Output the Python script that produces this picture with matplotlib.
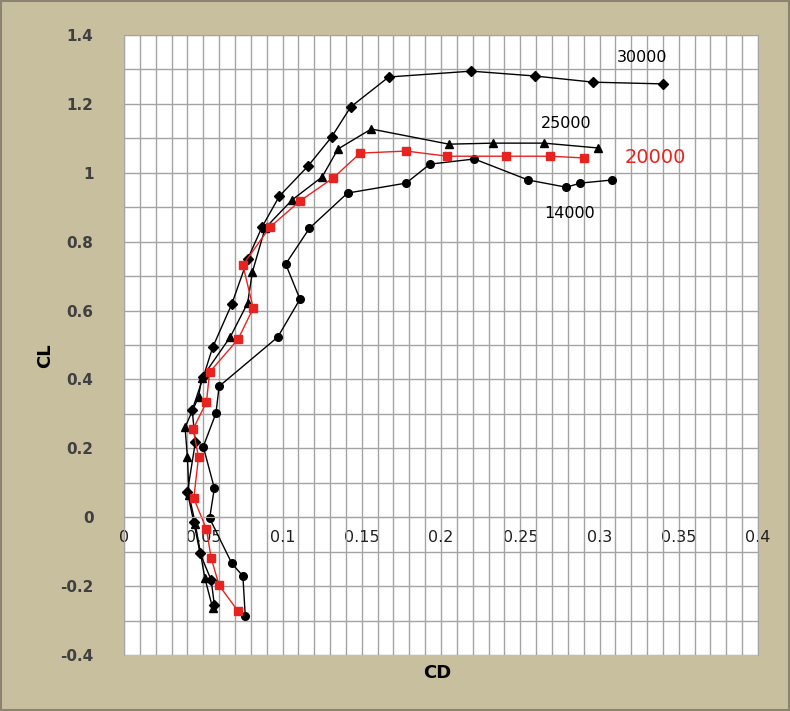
import numpy as np
import matplotlib.pyplot as plt
from matplotlib.ticker import MultipleLocator

# Re 30000 (diamonds)
cd_30000 = [0.340, 0.296, 0.259, 0.219, 0.167, 0.143, 0.131, 0.116, 0.098, 0.087,
            0.078, 0.068, 0.056, 0.050, 0.043, 0.045, 0.040, 0.044, 0.048, 0.055, 0.057]
cl_30000 = [1.258, 1.263, 1.281, 1.295, 1.278, 1.191, 1.104, 1.019, 0.932, 0.842,
            0.749, 0.619, 0.494, 0.407, 0.311, 0.218, 0.073, -0.014, -0.105, -0.183, -0.255]

# Re 25000 (triangles)
cd_25000 = [0.299, 0.265, 0.233, 0.205, 0.156, 0.135, 0.125, 0.106, 0.089, 0.081,
            0.078, 0.067, 0.049, 0.047, 0.0385, 0.040, 0.041, 0.045, 0.051, 0.056]
cl_25000 = [1.072, 1.086, 1.086, 1.083, 1.127, 1.069, 0.988, 0.921, 0.839, 0.712,
            0.622, 0.523, 0.404, 0.349, 0.261, 0.174, 0.065, -0.020, -0.177, -0.265]

# Re 20000 (red squares)
cd_20000 = [0.290, 0.269, 0.241, 0.204, 0.178, 0.149, 0.132, 0.111, 0.092, 0.075,
            0.0815, 0.072, 0.054, 0.052, 0.0436, 0.047, 0.044, 0.052, 0.055, 0.060, 0.072]
cl_20000 = [1.043, 1.048, 1.048, 1.048, 1.063, 1.057, 0.985, 0.918, 0.842, 0.732,
            0.607, 0.517, 0.421, 0.334, 0.256, 0.174, 0.055, -0.035, -0.119, -0.198, -0.273]

# Re 14000 (circles)
cd_14000 = [0.308, 0.288, 0.279, 0.255, 0.221, 0.193, 0.178, 0.141, 0.117, 0.102,
            0.111, 0.097, 0.060, 0.058, 0.050, 0.057, 0.054, 0.068, 0.075, 0.0765]
cl_14000 = [0.979, 0.970, 0.958, 0.979, 1.040, 1.025, 0.970, 0.941, 0.839, 0.735,
            0.633, 0.523, 0.380, 0.302, 0.205, 0.084, -0.003, -0.134, -0.171, -0.288]

bg = '#C7BF9E'
fig = plt.figure(figsize=(7.9, 7.11), dpi=100, facecolor=bg)
ax = fig.add_axes([0.157, 0.0788, 0.8025, 0.872])
ax.set_facecolor('white')

ax.plot(cd_30000, cl_30000, '-D', color='black', lw=1, ms=5)
ax.plot(cd_25000, cl_25000, '-^', color='black', lw=1, ms=6)
ax.plot(cd_14000, cl_14000, '-o', color='black', lw=1, ms=5.5)
ax.plot(cd_20000, cl_20000, '-s', color='#E8231F', mec='#E8231F', lw=1, ms=5.5)

ax.set_xlim(0, 0.4)
ax.set_ylim(-0.4, 1.4)
ax.xaxis.set_minor_locator(MultipleLocator(0.01))
ax.yaxis.set_minor_locator(MultipleLocator(0.1))
ax.set_xticks(np.arange(0, 0.401, 0.05))
ax.set_xticklabels(['0', '0.05', '0.1', '0.15', '0.2', '0.25', '0.3', '0.35', '0.4'])
ax.set_yticks(np.arange(-0.4, 1.401, 0.2))
ax.set_yticklabels(['-0.4', '-0.2', '0', '0.2', '0.4', '0.6', '0.8', '1', '1.2', '1.4'])
ax.grid(which='both', color='#A4A4A4', lw=1)
ax.set_axisbelow(True)

ax.spines['bottom'].set_position(('data', 0))
for s in ax.spines.values():
    s.set_color('#A4A4A4')
ax.tick_params(which='both', length=0)
ax.tick_params(axis='x', labelsize=11.5, pad=9, colors='#202020')
ax.tick_params(axis='y', labelsize=11, pad=22, colors='#404040')
for t in ax.get_yticklabels():
    t.set_fontweight('bold')

fig.text(0.057, 0.5, 'CL', rotation=90, fontsize=13, fontweight='bold', va='center', ha='center')
fig.text(0.553, 0.053, 'CD', fontsize=13, fontweight='bold', va='center', ha='center')

ax.text(0.327, 1.336, '30000', fontsize=11.5, ha='center', va='center')
ax.text(0.279, 1.144, '25000', fontsize=11.5, ha='center', va='center')
ax.text(0.335, 1.043, '20000', fontsize=14, color='#E8231F', ha='center', va='center')
ax.text(0.281, 0.883, '14000', fontsize=11.5, ha='center', va='center')

fig.patches.append(plt.Rectangle((0.001, 0.001), 0.998, 0.998, transform=fig.transFigure,
                                 fill=False, ec='#8A8470', lw=1.5))

fig.savefig('out.png', dpi=100, facecolor=bg)
